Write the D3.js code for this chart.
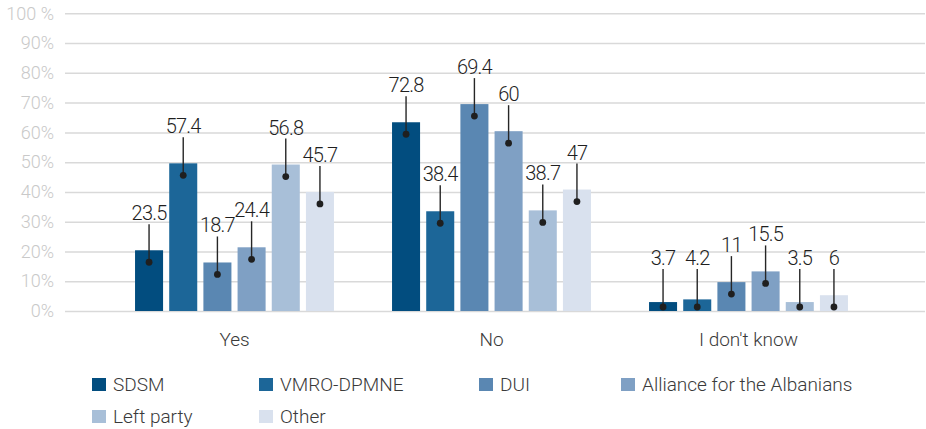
<!DOCTYPE html>
<html>
<head>
<meta charset="utf-8">
<script src="https://cdn.jsdelivr.net/npm/d3@7"></script>
<style>
  body { margin: 0; background: #fff; }
  svg { display: block; font-family: Roboto, "Noto Sans", sans-serif; }
</style>
</head>
<body>
<svg id="chart" width="926" height="429"></svg>
<script>
// answers on the x axis
var categories = ["Yes", "No", "I don't know"];
// parties, in legend order
var parties = ["SDSM", "VMRO-DPMNE", "DUI", "Alliance for the Albanians", "Left party", "Other"];
var partyColors = ["#024d7f", "#1c6698", "#5a87b2", "#7fa0c4", "#a8bfd8", "#d9e1ee"];

// bar heights as drawn (percent), one array per answer
var barsYes = [20.4, 49.6, 16.3, 21.4, 49.2, 40.0];
var barsNo = [63.4, 33.5, 69.5, 60.4, 33.8, 40.8];
var barsDontKnow = [3.0, 3.9, 9.7, 13.3, 3.0, 5.3];

// numbers printed in the callouts
var labelsYes = ["23.5", "57.4", "18.7", "24.4", "56.8", "45.7"];
var labelsNo = ["72.8", "38.4", "69.4", "60", "38.7", "47"];
var labelsDontKnow = ["3.7", "4.2", "11", "15.5", "3.5", "6"];

var tickValues = [0, 10, 20, 30, 40, 50, 60, 70, 80, 90, 100];
var tickLabels = ["0%", "10%", "20%", "30%", "40%", "50%", "60%", "70%", "80%", "90%", "100 %"];

var bars = [barsYes, barsNo, barsDontKnow];
var labels = [labelsYes, labelsNo, labelsDontKnow];

var svg = d3.select("#chart");

var y = d3.scaleLinear().domain([0, 100]).range([311, 13.3]);
var x0 = d3.scaleBand().domain(categories).range([106, 877]).paddingInner(0.226).paddingOuter(0.113);
var x1 = d3.scaleBand().domain(parties).range([0, x0.bandwidth()]).paddingInner(0.18);
var color = d3.scaleOrdinal().domain(parties).range(partyColors);

// gridlines + tick labels
var yAxis = d3.axisLeft(y).tickValues(tickValues).tickSize(-860).tickPadding(11)
  .tickFormat(function(d, i) { return tickLabels[i]; });
var axisG = svg.append("g").attr("transform", "translate(65,0)").call(yAxis);
axisG.select(".domain").remove();
axisG.selectAll(".tick line").attr("stroke", "#d9d9d9").attr("stroke-width", 1.5);
axisG.selectAll(".tick text").attr("fill", "#c9c9c9").attr("font-size", 18).attr("font-weight", 300)
  .attr("font-family", "Roboto, sans-serif");

// rows for drawing
var rows = [];
categories.forEach(function(cat, ci) {
  parties.forEach(function(p, pi) {
    rows.push({ cat: cat, party: p, value: bars[ci][pi], label: labels[ci][pi] });
  });
});

var plot = svg.append("g");

plot.selectAll("rect.bar").data(rows).enter().append("rect")
  .attr("class", "bar")
  .attr("x", function(d) { return x0(d.cat) + x1(d.party); })
  .attr("y", function(d) { return y(d.value); })
  .attr("width", x1.bandwidth())
  .attr("height", function(d) { return y(0) - y(d.value); })
  .attr("fill", function(d) { return color(d.party); });

// callouts: dot inside the bar, leader line up to the number
function cx(d) { return x0(d.cat) + x1(d.party) + x1.bandwidth() / 2; }
function dotY(d) { return Math.min(y(d.value) + 12, y(0) - 4); }
function labelY(d) { return Math.min(y(d.value) - 30, y(0) - 46); }

plot.selectAll("line.leader").data(rows).enter().append("line")
  .attr("class", "leader")
  .attr("x1", cx).attr("x2", cx)
  .attr("y1", dotY)
  .attr("y2", function(d) { return labelY(d) + 4; })
  .attr("stroke", "#262626").attr("stroke-width", 1.4);

plot.selectAll("circle.dot").data(rows).enter().append("circle")
  .attr("class", "dot")
  .attr("cx", cx).attr("cy", dotY).attr("r", 3.4)
  .attr("fill", "#1f1f1f");

plot.selectAll("text.value").data(rows).enter().append("text")
  .attr("class", "value")
  .attr("x", cx).attr("y", labelY)
  .attr("text-anchor", "middle")
  .attr("font-size", 20).attr("font-weight", 300).attr("letter-spacing", -0.8)
  .attr("fill", "#1f1f1f")
  .text(function(d) { return d.label; });

// category labels
svg.append("g").selectAll("text").data(categories).enter().append("text")
  .attr("x", function(d) { return x0(d) + x0.bandwidth() / 2; })
  .attr("y", 346)
  .attr("text-anchor", "middle")
  .attr("font-size", 19).attr("font-weight", 300)
  .attr("fill", "#3a3a3a")
  .text(function(d) { return d; });

// legend, two rows like the original
var legendCols = [92, 259, 479, 621];
var legend = svg.append("g").selectAll("g").data(parties).enter().append("g")
  .attr("transform", function(d, i) {
    return "translate(" + legendCols[i % 4] + "," + (378 + Math.floor(i / 4) * 32) + ")";
  });
legend.append("rect").attr("width", 14).attr("height", 13)
  .attr("fill", function(d) { return color(d); });
legend.append("text").attr("x", 21).attr("y", 13)
  .attr("font-size", 19).attr("font-weight", 300)
  .attr("fill", "#3a3a3a")
  .text(function(d) { return d; });
</script>
</body>
</html>
